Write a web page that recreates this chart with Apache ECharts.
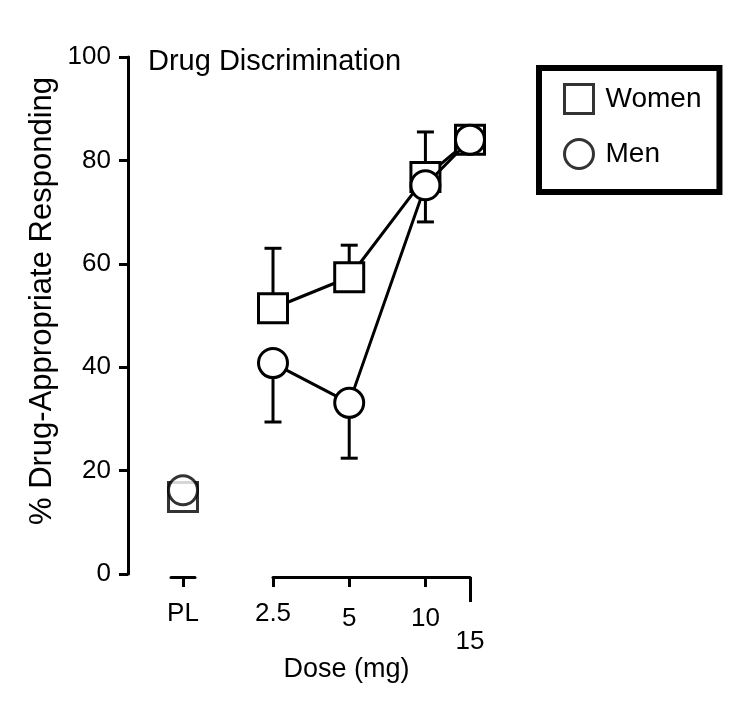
<!DOCTYPE html>
<html>
<head>
<meta charset="utf-8">
<script src="https://cdn.jsdelivr.net/npm/echarts@6/dist/echarts.min.js"></script>
<style>
  html, body { margin: 0; padding: 0; background: #fff; }
  #chart { width: 750px; height: 716px; }
</style>
</head>
<body>
<div id="chart"></div>
<script>
// ---- data ----
const plCategories = ['PL'];
const doses = [2.5, 5, 10, 15];
const doseLabels = ['2.5', '5', '10', '15'];
const womenPL = [14.9];
const menPL = [16.2];
const womenMean = [51.4, 57.4, 76.8, 84.0];
const menMean = [40.8, 33.1, 75.2, 84.0];
const womenUpper = [63.0, 63.6, 85.5, null];
const menLower = [29.4, 22.4, 68.1, null];
const yMin = 0, yMax = 100, yStep = 20;
const titleText = 'Drug Discrimination';
const yName = '% Drug-Appropriate Responding';
const xName = 'Dose (mg)';

// ---- build ----
const FONT = '"Liberation Sans", Arial, sans-serif';
const lx = d => Math.log10(d);
const plIdx = plCategories.map((c, i) => i);
const womenLine = doses.map((d, i) => [lx(d), womenMean[i]]);
const menLine = doses.map((d, i) => [lx(d), menMean[i]]);
const womenErr = doses.map((d, i) => [lx(d), womenMean[i], womenUpper[i]]).filter(r => r[2] != null);
const menErr = doses.map((d, i) => [lx(d), menMean[i], menLower[i]]).filter(r => r[2] != null);

const symStyle = { color: '#fff', borderColor: '#000', borderWidth: 3 };
const lineStyle = { color: '#000', width: 3 };

function errorBar(params, api) {
  const x = api.value(0), y = api.value(1), e = api.value(2);
  const p0 = api.coord([x, y]);
  const p1 = api.coord([x, e]);
  const hw = 8.5;
  return {
    type: 'group',
    children: [
      { type: 'line', shape: { x1: p0[0], y1: p0[1], x2: p1[0], y2: p1[1] }, style: { stroke: '#000', lineWidth: 3 } },
      { type: 'line', shape: { x1: p1[0] - hw, y1: p1[1], x2: p1[0] + hw, y2: p1[1] }, style: { stroke: '#000', lineWidth: 3 } }
    ]
  };
}

const labelStyleKeys = ['a', 'b', 'b', 'c'];

const option = {
  animation: false,
  backgroundColor: '#fff',
  textStyle: { fontFamily: FONT, color: '#000' },
  title: {
    text: titleText,
    left: 143, top: 42,
    textStyle: { fontFamily: FONT, fontSize: 29, fontWeight: 'normal', color: '#000' }
  },
  legend: {
    orient: 'vertical',
    left: 539, top: 68,
    padding: [15, 18, 22, 24],
    itemGap: 23,
    itemWidth: 29, itemHeight: 29,
    borderColor: '#000', borderWidth: 6,
    backgroundColor: '#fff',
    itemStyle: { color: '#fff', borderColor: '#000', borderWidth: 3 },
    textStyle: { fontFamily: FONT, fontSize: 28, color: '#000', padding: [6, 0, 0, 7] },
    data: [{ name: 'Women', icon: 'rect' }, { name: 'Men', icon: 'circle' }]
  },
  grid: [
    { left: 171, width: 24, top: 57, height: 517 },
    { left: 273, width: 197, top: 57, height: 517 }
  ],
  xAxis: [
    {
      gridIndex: 0, type: 'value', min: -1, max: 1, offset: 3, position: 'bottom',
      axisLine: { onZero: false, lineStyle: { color: '#000', width: 3 } },
      axisTick: { customValues: plIdx, length: 10, lineStyle: { width: 3, color: '#000' } },
      axisLabel: {
        customValues: plIdx,
        formatter: v => plCategories[Math.round(v)] || '',
        fontFamily: FONT, fontSize: 26, color: '#000', margin: 24
      },
      splitLine: { show: false }
    },
    {
      gridIndex: 1, type: 'value', min: lx(doses[0]), max: lx(doses[doses.length - 1]), offset: 3, position: 'bottom',
      axisLine: { onZero: false, lineStyle: { color: '#000', width: 3 } },
      axisTick: { customValues: doses.slice(0, 3).map(lx), length: 10, lineStyle: { width: 3, color: '#000' } },
      axisLabel: {
        customValues: doses.map(lx),
        margin: 24,
        fontFamily: FONT, fontSize: 26, color: '#000',
        formatter: v => {
          const i = doses.findIndex(d => Math.abs(lx(d) - v) < 1e-6);
          return i < 0 ? '' : '{' + labelStyleKeys[i] + '|' + doseLabels[i] + '}';
        },
        rich: {
          a: { fontFamily: FONT, fontSize: 26, color: '#000' },
          b: { fontFamily: FONT, fontSize: 26, color: '#000', padding: [5, 0, 0, 0] },
          c: { fontFamily: FONT, fontSize: 26, color: '#000', padding: [28, 0, 0, 0] }
        }
      },
      splitLine: { show: false },
      name: xName, nameLocation: 'middle', nameGap: 79, nameMoveOverlap: false,
      nameTextStyle: { fontFamily: FONT, fontSize: 27, color: '#000', padding: [0, 50, 0, 0] }
    },
    {
      gridIndex: 1, type: 'value', min: lx(doses[0]), max: lx(doses[doses.length - 1]), offset: 3, position: 'bottom',
      axisLine: { show: false, onZero: false },
      axisTick: { customValues: [lx(doses[3])], length: 25, lineStyle: { width: 3, color: '#000' } },
      axisLabel: { show: false },
      splitLine: { show: false }
    }
  ],
  yAxis: [
    {
      gridIndex: 0, type: 'value', min: yMin, max: yMax, interval: yStep, offset: 43, position: 'left',
      axisLine: { show: true, onZero: false, lineStyle: { color: '#000', width: 3 } },
      axisTick: { show: true, length: 9, lineStyle: { width: 3, color: '#000' } },
      axisLabel: { fontFamily: FONT, fontSize: 26, color: '#000', margin: 17 },
      splitLine: { show: false },
      name: yName, nameLocation: 'middle', nameGap: 70, nameMoveOverlap: false,
      nameTextStyle: { fontFamily: FONT, fontSize: 31, color: '#000', padding: [0, 0, 0, 29] }
    },
    {
      gridIndex: 1, type: 'value', min: yMin, max: yMax, interval: yStep, show: false,
      axisLine: { onZero: false }
    }
  ],
  series: [
    { type: 'custom', name: 'WomenErr', xAxisIndex: 1, yAxisIndex: 1, data: womenErr, renderItem: errorBar, z: 1, silent: true },
    { type: 'custom', name: 'MenErr', xAxisIndex: 1, yAxisIndex: 1, data: menErr, renderItem: errorBar, z: 1, silent: true },
    {
      type: 'scatter', name: 'Women', xAxisIndex: 0, yAxisIndex: 0,
      data: womenPL.map((v, i) => [plIdx[i], v]),
      symbol: 'rect', symbolSize: 29, itemStyle: symStyle, z: 3
    },
    {
      type: 'line', name: 'Women', xAxisIndex: 1, yAxisIndex: 1, data: womenLine,
      symbol: 'rect', symbolSize: 29, showSymbol: true, itemStyle: symStyle, lineStyle: lineStyle, z: 3
    },
    {
      type: 'scatter', name: 'Men', xAxisIndex: 0, yAxisIndex: 0,
      data: menPL.map((v, i) => [plIdx[i], v]),
      symbol: 'circle', symbolSize: 29, itemStyle: symStyle, z: 4
    },
    {
      type: 'line', name: 'Men', xAxisIndex: 1, yAxisIndex: 1, data: menLine,
      symbol: 'circle', symbolSize: 29, showSymbol: true, itemStyle: symStyle, lineStyle: lineStyle, z: 4
    }
  ]
};

const chart = echarts.init(document.getElementById('chart'), null, { renderer: 'canvas' });
chart.setOption(option);
</script>
</body>
</html>
